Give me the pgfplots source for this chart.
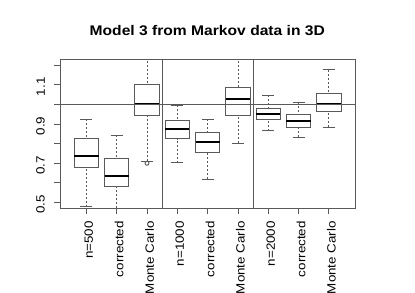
\documentclass[border=0pt]{standalone}
\usepackage{pgfplots}
\pgfplotsset{compat=1.18}
\usepgfplotslibrary{statistics}
\usepackage{fontspec}
\setmainfont{Liberation Sans}[FakeStretch=1.12]
\definecolor{frame}{gray}{0.35}
\begin{document}
\begin{tikzpicture}[x=1bp,y=1bp]
\begin{axis}[
  at={(60.3bp,85bp)}, anchor=south west,
  width=294.7bp, height=148.3bp, scale only axis,
  xmin=0.14, xmax=9.86, ymin=0.472, ymax=1.228,
  axis line style={draw=frame, line width=0.9bp},
  tick align=outside, major tick length=6bp,
  every tick/.style={draw=frame, line width=0.9bp},
  xtick pos=left, ytick pos=left,
  xtick={1,2,3,4,5,6,7,8,9},
  xticklabels={n=500,corrected,Monte Carlo,n=1000,corrected,Monte Carlo,n=2000,corrected,Monte Carlo},
  ytick={0.5,0.6,0.7,0.8,0.9,1.0,1.1,1.2},
  yticklabels={0.5,,0.7,,0.9,,1.1,},
  tick label style={font=\fontsize{12}{14}\selectfont},
  xticklabel style={xshift=2.5bp, yshift=-7bp, rotate=90, anchor=east, inner sep=0pt},
  yticklabel style={xshift=-9.3bp, yshift=-2bp, rotate=90, anchor=south, inner sep=0pt},
  boxplot/draw direction=y,
  boxplot/box extend=0.8,
  boxplot/whisker extend=0.4,
  boxplot/every box/.style={draw=frame, line width=0.9bp},
  boxplot/every whisker/.style={draw=frame, line width=0.9bp},
  boxplot/every median/.style={draw=black, line width=2bp},
  boxplot/draw/lower whisker/.code={%
    \draw[draw=frame, line width=0.9bp, dash pattern=on 2bp off 2bp]
      (boxplot box cs:\pgfplotsboxplotvalue{lower whisker},0.5) --
      (boxplot box cs:\pgfplotsboxplotvalue{lower quartile},0.5);
    \draw[draw=frame, line width=0.9bp]
      (boxplot whisker cs:\pgfplotsboxplotvalue{lower whisker},0) --
      (boxplot whisker cs:\pgfplotsboxplotvalue{lower whisker},1);
  },
  boxplot/draw/upper whisker/.code={%
    \draw[draw=frame, line width=0.9bp, dash pattern=on 2bp off 2bp]
      (boxplot box cs:\pgfplotsboxplotvalue{upper whisker},0.5) --
      (boxplot box cs:\pgfplotsboxplotvalue{upper quartile},0.5);
    \draw[draw=frame, line width=0.9bp]
      (boxplot whisker cs:\pgfplotsboxplotvalue{upper whisker},0) --
      (boxplot whisker cs:\pgfplotsboxplotvalue{upper whisker},1);
  },
]
\addplot[draw=frame, boxplot prepared={draw position=1, median=0.739, upper quartile=0.825, lower quartile=0.679, upper whisker=0.925, lower whisker=0.478}] coordinates {};
\addplot[draw=frame, boxplot prepared={draw position=2, median=0.634, upper quartile=0.725, lower quartile=0.580, upper whisker=0.844, lower whisker=0.45}] coordinates {};
\addplot[draw=frame, mark=o, mark size=2bp, mark options={solid, draw=frame, line width=0.9bp}, boxplot prepared={draw position=3, median=1.001, upper quartile=1.104, lower quartile=0.945, upper whisker=1.26, lower whisker=0.710}] coordinates {(0,0.700)};
\addplot[draw=frame, boxplot prepared={draw position=4, median=0.877, upper quartile=0.916, lower quartile=0.826, upper whisker=0.997, lower whisker=0.702}] coordinates {};
\addplot[draw=frame, boxplot prepared={draw position=5, median=0.810, upper quartile=0.859, lower quartile=0.757, upper whisker=0.925, lower whisker=0.620}] coordinates {};
\addplot[draw=frame, boxplot prepared={draw position=6, median=1.026, upper quartile=1.085, lower quartile=0.943, upper whisker=1.26, lower whisker=0.803}] coordinates {};
\addplot[draw=frame, boxplot prepared={draw position=7, median=0.950, upper quartile=0.981, lower quartile=0.921, upper whisker=1.048, lower whisker=0.867}] coordinates {};
\addplot[draw=frame, boxplot prepared={draw position=8, median=0.916, upper quartile=0.947, lower quartile=0.884, upper whisker=1.011, lower whisker=0.834}] coordinates {};
\addplot[draw=frame, boxplot prepared={draw position=9, median=1.004, upper quartile=1.055, lower quartile=0.962, upper whisker=1.177, lower whisker=0.884}] coordinates {};
\addplot[draw=frame, line width=0.9bp] coordinates {(3.5,0.472) (3.5,1.228)};
\addplot[draw=frame, line width=0.9bp] coordinates {(6.5,0.472) (6.5,1.228)};
\addplot[draw=frame, line width=0.9bp] coordinates {(0.14,1) (9.86,1)};
\end{axis}
\node[anchor=base, font=\bfseries\fontsize{14}{16}\selectfont] at (207.3,257.3) {Model 3 from Markov data in 3D};
\pgfresetboundingbox
\path[use as bounding box] (0,0) rectangle (415,293);
\end{tikzpicture}
\end{document}
